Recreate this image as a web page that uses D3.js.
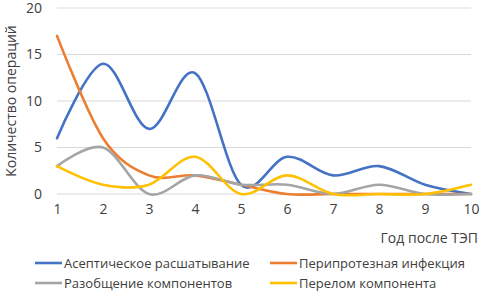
<!DOCTYPE html>
<html>
<head>
<meta charset="utf-8">
<script src="https://cdn.jsdelivr.net/npm/d3@7"></script>
<style>
  body { margin: 0; background: #fff; }
  text { font-family: "Open Sans", "Noto Sans", sans-serif; fill: #404040; }
</style>
</head>
<body>
<div id="chart"></div>
<script>
const years = [1, 2, 3, 4, 5, 6, 7, 8, 9, 10];
const yTicks = [0, 5, 10, 15, 20];

const aseptic = [6, 14, 7, 13, 1, 4, 2, 3, 1, 0];
const infection = [17, 6, 2, 2, 1, 0, 0, 0, 0, 0];
const disconnect = [3, 5, 0, 2, 1, 1, 0, 1, 0, 0];
const fracture = [3, 1, 1, 4, 0, 2, 0, 0, 0, 1];

const seriesNames = ["Асептическое расшатывание", "Перипротезная инфекция", "Разобщение компонентов", "Перелом компонента"];
const seriesColors = ["#4472C4", "#ED7D31", "#A5A5A5", "#FFC000"];

const series = [aseptic, infection, disconnect, fracture].map((vals, i) => ({
    name: seriesNames[i], color: seriesColors[i], values: vals
}));

const width = 484, height = 294;
const margin = { top: 8, right: 13, bottom: 100, left: 57 };
const innerW = width - margin.left - margin.right,
    innerH = height - margin.top - margin.bottom;

const svg = d3.select("#chart").append("svg")
    .attr("width", width)
    .attr("height", height);

const g = svg.append("g")
    .attr("transform", `translate(${margin.left},${margin.top})`);

const x = d3.scalePoint().domain(years).range([0, innerW]);
const y = d3.scaleLinear().domain([0, 20]).range([innerH, 0]);

// gridlines
g.append("g")
    .selectAll("line")
    .data(yTicks)
    .enter().append("line")
    .attr("x1", 0).attr("x2", innerW)
    .attr("y1", d => y(d)).attr("y2", d => y(d))
    .attr("stroke", "#d9d9d9")
    .attr("stroke-width", 1);

const yAxis = g.append("g")
    .attr("transform", "translate(-15,0)")
    .call(d3.axisLeft(y).tickValues(yTicks).tickSize(0).tickPadding(0));
yAxis.select(".domain").remove();
yAxis.selectAll("text").style("font-size", "14px").attr("fill", "#404040")
    .style("font-family", '"Open Sans", sans-serif');

const xAxis = g.append("g")
    .attr("transform", `translate(0,${innerH})`)
    .call(d3.axisBottom(x).tickSize(0).tickPadding(10));
xAxis.select(".domain").remove();
xAxis.selectAll("text").style("font-size", "14px").attr("fill", "#404040")
    .style("font-family", '"Open Sans", sans-serif');

const line = d3.line()
    .x((d, i) => x(years[i]))
    .y(d => y(d))
    .curve(d3.curveCatmullRom.alpha(0));

g.selectAll(".series")
    .data(series)
    .enter().append("path")
    .attr("class", "series")
    .attr("d", d => line(d.values))
    .attr("fill", "none")
    .attr("stroke", d => d.color)
    .attr("stroke-width", 2.6)
    .attr("stroke-linecap", "round");

// axis titles
svg.append("text")
    .attr("transform", `translate(16,${margin.top + innerH / 2}) rotate(-90)`)
    .attr("text-anchor", "middle")
    .style("font-size", "14px")
    .text("Количество операций");

svg.append("text")
    .attr("x", 478)
    .attr("y", 243)
    .attr("text-anchor", "end")
    .style("font-size", "14px")
    .text("Год после ТЭП");

// legend
const legendPos = [[35, 263], [270, 263], [35, 283], [270, 283]];
const legend = svg.selectAll(".legend")
    .data(series)
    .enter().append("g")
    .attr("class", "legend")
    .attr("transform", (d, i) => `translate(${legendPos[i][0]},${legendPos[i][1]})`);

legend.append("line")
    .attr("x1", 0).attr("x2", 27)
    .attr("stroke", d => d.color)
    .attr("stroke-width", 2.6);

legend.append("text")
    .attr("x", 29)
    .attr("dy", "0.35em")
    .style("font-size", "13px")
    .text(d => d.name);
</script>
</body>
</html>
